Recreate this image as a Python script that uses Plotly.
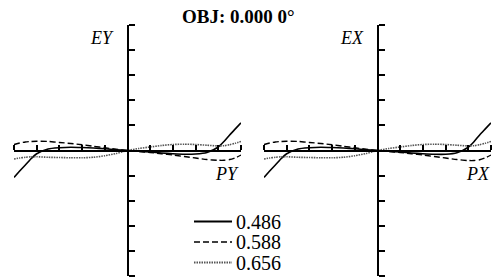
import plotly.graph_objects as go

# Pupil coordinate (normalized)
pupil = [-1, -0.95, -0.9, -0.85, -0.8, -0.7, -0.6, -0.5, -0.4, -0.3, -0.2, -0.1, 0,
         0.1, 0.2, 0.3, 0.4, 0.5, 0.6, 0.7, 0.8, 0.85, 0.9, 0.95, 1]

# EY (tangential) for three wavelengths, in axis tick units
ey_486 = [-1.07, -0.82, -0.58, -0.33, -0.13, 0.06, 0.11, 0.13, 0.12, 0.10, 0.07, 0.03, 0,
          -0.03, -0.06, -0.10, -0.13, -0.15, -0.14, -0.08, 0.14, 0.36, 0.62, 0.86, 1.10]
ey_588 = [0.24, 0.30, 0.34, 0.36, 0.37, 0.36, 0.32, 0.28, 0.23, 0.17, 0.11, 0.05, 0,
          -0.04, -0.08, -0.13, -0.18, -0.24, -0.30, -0.36, -0.39, -0.39, -0.36, -0.29, -0.18]
ey_656 = [-0.34, -0.30, -0.27, -0.25, -0.25, -0.27, -0.28, -0.29, -0.29, -0.27, -0.21, -0.12, 0,
          0.08, 0.14, 0.20, 0.24, 0.25, 0.24, 0.21, 0.18, 0.19, 0.23, 0.29, 0.36]

# EX (sagittal)
ex_486 = [-1.07, -0.82, -0.58, -0.33, -0.13, 0.06, 0.11, 0.13, 0.12, 0.10, 0.07, 0.03, 0,
          -0.03, -0.06, -0.10, -0.13, -0.15, -0.15, -0.09, 0.13, 0.35, 0.62, 0.86, 1.10]
ex_588 = [0.24, 0.30, 0.34, 0.36, 0.37, 0.36, 0.32, 0.28, 0.23, 0.17, 0.11, 0.05, 0,
          -0.04, -0.08, -0.13, -0.18, -0.24, -0.30, -0.36, -0.40, -0.40, -0.37, -0.29, -0.18]
ex_656 = [-0.34, -0.30, -0.27, -0.25, -0.25, -0.27, -0.28, -0.29, -0.29, -0.27, -0.21, -0.12, 0,
          0.08, 0.14, 0.20, 0.24, 0.25, 0.24, 0.21, 0.18, 0.19, 0.23, 0.29, 0.36]

wavelengths = ["0.486", "0.588", "0.656"]
title_text = "OBJ: 0.000 0°"

W, H = 494, 277
styles = [
    dict(color="black", width=1.6, dash="solid"),
    dict(color="black", width=1.4, dash="6px,3px"),
    dict(color="#555555", width=1.6, dash="1.5px,1px"),
]

fig = go.Figure()
for ys, st, nm in zip([ey_486, ey_588, ey_656], styles, wavelengths):
    fig.add_trace(go.Scatter(x=pupil, y=ys, mode="lines", name=nm,
                             line=dict(shape="spline", smoothing=0.6, **st),
                             xaxis="x", yaxis="y", showlegend=False))
for ys, st, nm in zip([ex_486, ex_588, ex_656], styles, wavelengths):
    fig.add_trace(go.Scatter(x=pupil, y=ys, mode="lines", name=nm,
                             line=dict(shape="spline", smoothing=0.6, **st),
                             xaxis="x2", yaxis="y2", showlegend=False))

ydom = [1 - 276 / H, 1 - 25 / H]
ymid = (ydom[0] + ydom[1]) / 2
xd1 = [14 / W, 241 / W]
xd2 = [264 / W, 491 / W]

def xax(dom):
    return dict(domain=dom, range=[-1, 1], anchor="free", position=ymid, side="top",
                showline=True, linecolor="black", linewidth=1.5,
                ticks="outside", ticklen=5, tickwidth=1.5, tickcolor="black",
                tick0=-1, dtick=0.2, showticklabels=False, showgrid=False, zeroline=False)

def yax(pos):
    return dict(domain=ydom, range=[-5, 5], anchor="free", position=pos, side="right",
                showline=True, linecolor="black", linewidth=2,
                ticks="outside", ticklen=6, tickwidth=2, tickcolor="black",
                tick0=-5, dtick=1, showticklabels=False, showgrid=False, zeroline=False)

fig.update_layout(
    width=W, height=H, margin=dict(l=0, r=0, t=0, b=0),
    paper_bgcolor="white", plot_bgcolor="white",
    xaxis=xax(xd1), yaxis=yax((xd1[0] + xd1[1]) / 2),
    xaxis2=xax(xd2), yaxis2=yax((xd2[0] + xd2[1]) / 2),
    font=dict(family="Liberation Serif, Times New Roman, serif", color="black"),
)

ann = []
ann.append(dict(text="<b>" + title_text + "</b>", x=238 / W, y=1 - 16 / H, xref="paper", yref="paper",
                showarrow=False, xanchor="center", yanchor="middle", font=dict(size=19)))
for txt, xr, yc in [("<i>EY</i>", 116, 37.5), ("<i>EX</i>", 366, 37.5),
                    ("<i>PY</i>", 241, 174), ("<i>PX</i>", 492, 174)]:
    ann.append(dict(text=txt, x=xr / W, y=1 - yc / H, xref="paper", yref="paper",
                    showarrow=False, xanchor="right", yanchor="middle", font=dict(size=18)))

shapes = []
leg_y = [221.5, 242, 262.5]
for st, nm, yy in zip(styles, wavelengths, leg_y):
    shapes.append(dict(type="line", xref="paper", yref="paper",
                       x0=194 / W, x1=232 / W, y0=1 - yy / H, y1=1 - yy / H,
                       line=dict(color=st["color"], width=st["width"] + 0.3, dash=st["dash"])))
    ann.append(dict(text=nm, x=234 / W, y=1 - yy / H, xref="paper", yref="paper",
                    showarrow=False, xanchor="left", yanchor="middle", font=dict(size=20)))

fig.update_layout(annotations=ann, shapes=shapes)
fig.write_html("out.html", config={"displayModeBar": False},
               post_script="document.body.style.margin='0';document.body.style.overflow='hidden';")
